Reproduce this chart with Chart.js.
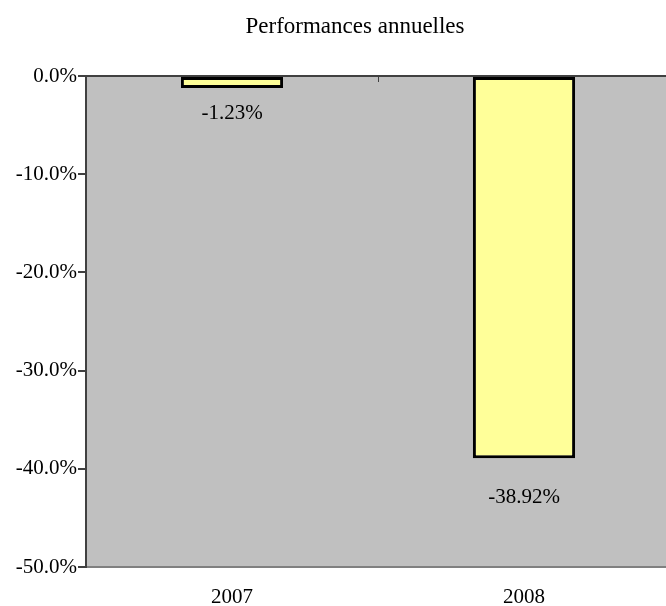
<!DOCTYPE html>
<html>
<head>
<meta charset="utf-8">
<script src="https://cdn.jsdelivr.net/npm/chart.js@4/dist/chart.umd.min.js"></script>
<style>
  html, body { margin: 0; padding: 0; background: #fff; }
  #wrap { width: 666px; height: 606px; overflow: hidden; }
</style>
</head>
<body>
<div id="wrap"><canvas id="perf" width="672" height="606"></canvas></div>
<script>
'use strict'

// annual performance
var years = ['2007', '2008']
var perf = [-1.23, -38.92]
var yTicks = [0, -10, -20, -30, -40, -50]
var title = 'Performances annuelles'

var FONT = '"Liberation Serif", "Times New Roman", serif'

// grey plot area background + title (the original title sits right of the canvas centre)
var plotBackground = {
  id: 'plotBackground',
  beforeDraw: function (chart) {
    var a = chart.chartArea
    var ctx = chart.ctx
    ctx.save()
    ctx.fillStyle = '#c0c0c0'
    ctx.fillRect(a.left, a.top, a.right - a.left, a.bottom - a.top)
    ctx.fillStyle = '#000'
    ctx.font = '23px ' + FONT
    ctx.textAlign = 'center'
    ctx.textBaseline = 'middle'
    ctx.fillText(title, 355, 27)
    ctx.restore()
  }
}

// category separator tick on the zero line + value labels under the bars
var extras = {
  id: 'extras',
  afterDatasetsDraw: function (chart) {
    var ctx = chart.ctx
    var xs = chart.scales.x
    var ys = chart.scales.y
    var zero = ys.getPixelForValue(0)
    ctx.save()
    ctx.strokeStyle = '#404040'
    ctx.lineWidth = 1
    for (var i = 0; i < years.length - 1; i++) {
      var mid = Math.round((xs.getPixelForValue(i) + xs.getPixelForValue(i + 1)) / 2) + 0.5
      ctx.beginPath()
      ctx.moveTo(mid, zero)
      ctx.lineTo(mid, zero + 6)
      ctx.stroke()
    }
    var offsets = [25, 39]
    ctx.fillStyle = '#000'
    ctx.font = '21px ' + FONT
    ctx.textAlign = 'center'
    ctx.textBaseline = 'middle'
    chart.getDatasetMeta(0).data.forEach(function (bar, idx) {
      ctx.fillText(perf[idx].toFixed(2) + '%', bar.x, bar.y + offsets[idx])
    })
    ctx.restore()
  }
}

new Chart(document.getElementById('perf'), {
  type: 'bar',
  data: {
    labels: years,
    datasets: [{
      data: perf,
      backgroundColor: '#ffff99',
      borderColor: '#000000',
      borderWidth: 3,
      borderSkipped: false,
      categoryPercentage: 1,
      barPercentage: 0.35
    }]
  },
  options: {
    responsive: false,
    animation: false,
    layout: { padding: { left: 0, right: 2, top: 76, bottom: 0 } },
    plugins: {
      legend: { display: false },
      tooltip: { enabled: false },
      title: { display: false }
    },
    scales: {
      x: {
        position: 'bottom',
        afterFit: function (s) { s.height = 39 },
        grid: { color: 'transparent', drawTicks: false },
        border: { display: true, color: '#808080', width: 2 },
        ticks: { color: '#000', font: { family: FONT, size: 21 }, padding: 18 }
      },
      y: {
        min: -50,
        max: 0,
        afterFit: function (s) { s.width = 86 },
        afterBuildTicks: function (scale) {
          scale.ticks = yTicks.map(function (v) { return { value: v } })
        },
        grid: {
          color: function (c) { return c.tick && c.tick.value === 0 ? '#404040' : 'transparent' },
          lineWidth: 2,
          tickColor: '#404040',
          tickLength: 8,
          drawTicks: true
        },
        border: { display: true, color: '#404040', width: 2 },
        ticks: {
          color: '#000',
          font: { family: FONT, size: 21 },
          padding: 1,
          callback: function (v) { return Number(v).toFixed(1) + '%' }
        }
      }
    }
  },
  plugins: [plotBackground, extras]
})
</script>
</body>
</html>
